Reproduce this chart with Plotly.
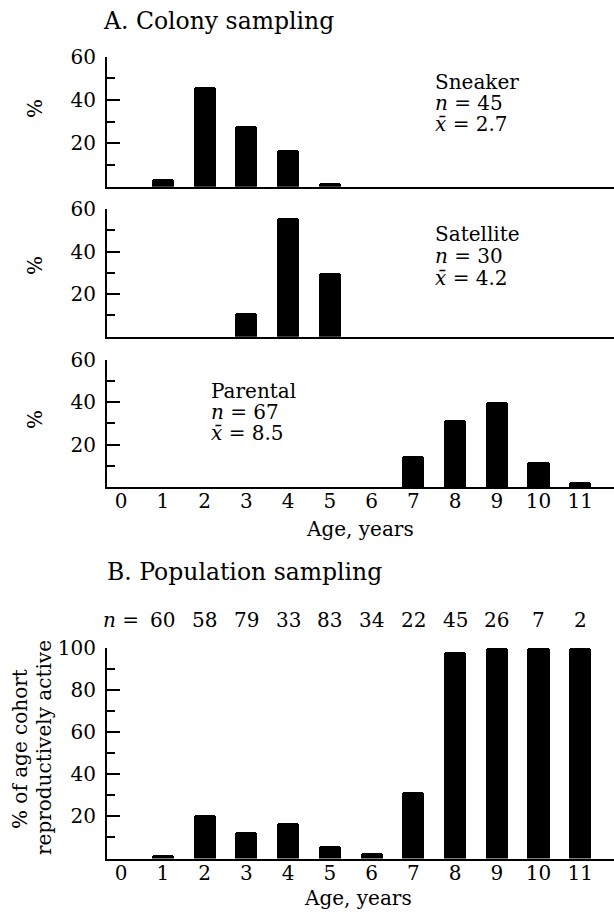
import plotly.graph_objects as go

# ---------------- data ----------------
ages = list(range(12))
age_labels = [str(a) for a in ages]

sneaker_pct = [0, 3.5, 46, 28, 17, 2, 0, 0, 0, 0, 0, 0]
satellite_pct = [0, 0, 0, 11, 56, 30, 0, 0, 0, 0, 0, 0]
parental_pct = [0, 0, 0, 0, 0, 0, 0, 15, 32, 40.5, 12, 2.5]
active_pct = [0, 1.7, 20.7, 12.7, 17, 6, 2.9, 31.8, 98, 100, 100, 100]

cohort_ages = [1, 2, 3, 4, 5, 6, 7, 8, 9, 10, 11]
cohort_n = [60, 58, 79, 33, 83, 34, 22, 45, 26, 7, 2]

a_ticks = [20, 40, 60]
a_minor = [10, 30, 50]
b_ticks = [20, 40, 60, 80, 100]
b_minor = [10, 30, 50, 70, 90]

groups = [
    ("Sneaker", "45", "2.7"),
    ("Satellite", "30", "4.2"),
    ("Parental", "67", "8.5"),
]

# ---------------- layout helpers ----------------
W, H = 614, 912
FONT = "DejaVu Serif"


def fx(x):
    return x / W


def fy(y):
    return 1 - y / H


x_dom = [fx(107), 1.0]
x_rng = [-0.34, 11.81]
dom_px = [(56.7, 186.7), (209, 336.7), (359.5, 487.3), (647.5, 858.5)]

fig = go.Figure()
series = [sneaker_pct, satellite_pct, parental_pct, active_pct]
for i, vals in enumerate(series):
    sfx = "" if i == 0 else str(i + 1)
    fig.add_trace(go.Bar(
        x=ages, y=vals, xaxis="x" + sfx, yaxis="y" + sfx,
        width=0.53,
        marker=dict(color="black", line=dict(width=0), cornerradius=3),
        hoverinfo="skip",
    ))

layout = dict(
    template="none",
    width=W, height=H,
    autosize=False,
    margin=dict(l=0, r=0, t=0, b=0, pad=0, autoexpand=False),
    paper_bgcolor="white", plot_bgcolor="white",
    showlegend=False,
    font=dict(family=FONT, size=20, color="black"),
    bargap=0,
)

for i, (top, bot) in enumerate(dom_px):
    sfx = "" if i == 0 else str(i + 1)
    is_b = i == 3
    layout["xaxis" + sfx] = dict(
        domain=x_dom, range=x_rng, anchor="y" + sfx,
        automargin=False,
        showline=True, linewidth=2, linecolor="black",
        ticks="", showgrid=False, zeroline=False,
        tickmode="array", tickvals=ages, ticktext=age_labels,
        showticklabels=(i >= 2),
        ticklabelstandoff=-5,
        tickfont=dict(family=FONT, size=20, color="black"),
        fixedrange=True,
    )
    layout["yaxis" + sfx] = dict(
        domain=[fy(bot), fy(top)],
        range=[0, 100] if is_b else [0, 60],
        anchor="x" + sfx,
        automargin=False,
        showline=True, linewidth=2, linecolor="black",
        showgrid=False, zeroline=False,
        ticks="inside", ticklen=13, tickwidth=1.5, tickcolor="black",
        tickmode="array",
        tickvals=b_ticks if is_b else a_ticks,
        ticktext=[str(v) for v in (b_ticks if is_b else a_ticks)],
        minor=dict(tickmode="array", tickvals=b_minor if is_b else a_minor,
                   ticks="inside", ticklen=8, tickwidth=1.5, tickcolor="black",
                   showgrid=False),
        ticklabelstandoff=5,
        tickfont=dict(family=FONT, size=20, color="black"),
        fixedrange=True,
    )

fig.update_layout(**layout)

ann = []


def add_text(text, x, y, size=20, xanchor="left", textangle=0, xref="paper"):
    ann.append(dict(text=text, x=x, y=fy(y), xref=xref, yref="paper",
                    xanchor=xanchor, yanchor="middle", showarrow=False,
                    textangle=textangle,
                    font=dict(family=FONT, size=size, color="black")))


# section titles
add_text("A. Colony sampling", fx(101), 21, size=23.5)
add_text("B. Population sampling", fx(105), 572, size=23.5)

# group labels
label_pos = [(432.6, [82, 103, 124]), (432.6, [234.5, 256, 278]), (208.7, [391, 412, 433])]
for (name, n, mean), (lx, ys) in zip(groups, label_pos):
    add_text(name, fx(lx), ys[0])
    add_text("<i>n</i> = " + n, fx(lx), ys[1])
    add_text("<i>x\u0304</i> = " + mean, fx(lx), ys[2])

# "%" axis labels (panels A)
for yc in [109, 266, 420]:
    add_text("%", fx(35), yc, xanchor="center", textangle=-90)

# panel B y title
add_text("% of age cohort", fx(20), 749, xanchor="center", textangle=-90)
add_text("reproductively active", fx(44), 748, xanchor="center", textangle=-90)

# x axis titles
add_text("Age, years", fx(360), 529, xanchor="center")
add_text("Age, years", fx(358), 898, xanchor="center")

# cohort sample sizes
add_text("<i>n</i> =", 0, 620, xanchor="center", xref="x4")
for a, n in zip(cohort_ages, cohort_n):
    add_text(str(n), a, 620, xanchor="center", xref="x4")

fig.update_layout(annotations=ann)

fig.write_html(
    "out.html",
    config={"displayModeBar": False},
    post_script="document.body.style.margin='0';document.body.style.overflow='hidden';",
)
